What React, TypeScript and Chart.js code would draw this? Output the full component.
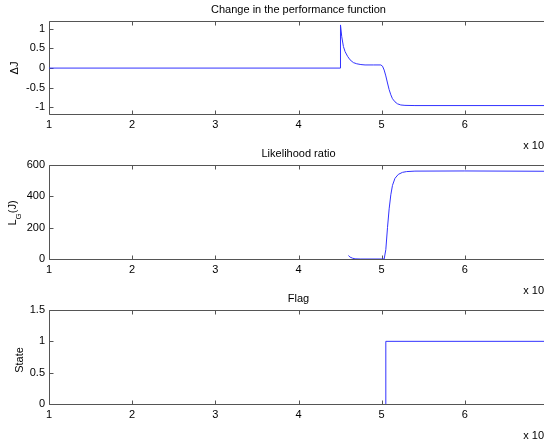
import React, { useEffect, useRef } from "react";
import { Chart, registerables } from "chart.js";

Chart.register(...registerables);

// ---------- data (x in units of 10^4) ----------
const X_TICKS = [1, 2, 3, 4, 5, 6];
const X_MIN = 1;
const X_MAX = 7;
const X_EXP_BASE = "x 10";
const X_EXP_POWER = "4";

const DJ_X = [1, 4.5, 4.505, 4.52, 4.54, 4.56, 4.59, 4.62, 4.66, 4.7, 4.75, 4.8, 4.9, 4.99, 5.01, 5.03, 5.05, 5.07, 5.09, 5.11, 5.13, 5.16, 5.19, 5.23, 5.28, 5.4, 7];
const DJ_Y = [0, 0, 1.1, 0.8, 0.55, 0.42, 0.3, 0.21, 0.14, 0.11, 0.09, 0.08, 0.08, 0.08, 0.05, -0.05, -0.2, -0.38, -0.55, -0.68, -0.78, -0.86, -0.91, -0.94, -0.95, -0.955, -0.955];
const DJ_TICKS = [-1, -0.5, 0, 0.5, 1];

const LR_X = [4.6, 4.62, 4.65, 4.68, 4.75, 5.03, 5.05, 5.07, 5.09, 5.11, 5.13, 5.16, 5.2, 5.25, 5.3, 5.4, 6, 7];
const LR_Y = [22, 12, 5, 1, 0, 0, 60, 200, 320, 410, 470, 515, 540, 553, 558, 561, 562, 560];
const LR_TICKS = [0, 200, 400, 600];

const FLAG_X = [5.05, 5.05, 7];
const FLAG_Y = [0, 1, 1];
const FLAG_TICKS = [0, 0.5, 1, 1.5];

// ---------- styling / layout ----------
const W = 600;
const H = 440;
const PLOT_LEFT = 49;
const PLOT_RIGHT = 548;
const X_AXIS_H = 20;
const FONT = "'Liberation Sans', Arial, Helvetica, sans-serif";
const AXIS_COLOR = "#555";
const TEXT_COLOR = "#000";
const LINE_COLOR = "rgb(50,50,255)";

type Panel = {
  title: string;
  xs: number[];
  ys: number[];
  yMin: number;
  yMax: number;
  yTicks: number[];
  top: number;
  bottom: number;
  ylabel: { main: string; sub?: string; rest?: string };
  ylabelX: number;
  ylabelY: number;
};

const PANELS: Panel[] = [
  {
    title: "Change in the performance function",
    xs: DJ_X, ys: DJ_Y, yMin: -1.17, yMax: 1.2, yTicks: DJ_TICKS,
    top: 21, bottom: 114,
    ylabel: { main: "\u0394J" }, ylabelX: 15, ylabelY: 68,
  },
  {
    title: "Likelihood ratio",
    xs: LR_X, ys: LR_Y, yMin: 0, yMax: 600, yTicks: LR_TICKS,
    top: 165, bottom: 259,
    ylabel: { main: "L", sub: "G", rest: "(J)" }, ylabelX: 12.5, ylabelY: 213,
  },
  {
    title: "Flag",
    xs: FLAG_X, ys: FLAG_Y, yMin: 0, yMax: 1.5, yTicks: FLAG_TICKS,
    top: 310, bottom: 404,
    ylabel: { main: "State" }, ylabelX: 19.5, ylabelY: 360,
  },
];

function makePlugin(p: Panel) {
  return {
    id: "matlabAxes",
    beforeDatasetsDraw(chart: any) {
      const { ctx, chartArea: a } = chart;
      const xs = chart.scales.x;
      const ys = chart.scales.y;
      const L = Math.floor(a.left) + 0.5;
      const R = Math.floor(a.right) + 0.5;
      const T = Math.floor(a.top) + 0.5;
      const B = Math.floor(a.bottom) + 0.5;
      ctx.save();
      ctx.strokeStyle = AXIS_COLOR;
      ctx.lineWidth = 1;
      ctx.beginPath();
      ctx.rect(L, T, R - L, B - T);
      for (const t of xs.ticks) {
        const px = Math.round(xs.getPixelForValue(t.value)) + 0.5;
        ctx.moveTo(px, B);
        ctx.lineTo(px, B - 4);
        ctx.moveTo(px, T);
        ctx.lineTo(px, T + 4);
      }
      for (const t of ys.ticks) {
        const py = Math.round(ys.getPixelForValue(t.value)) + 0.5;
        ctx.moveTo(L, py);
        ctx.lineTo(L + 4, py);
        ctx.moveTo(R, py);
        ctx.lineTo(R - 4, py);
      }
      ctx.stroke();
      ctx.restore();
    },
    afterDraw(chart: any) {
      const { ctx, chartArea: a } = chart;
      ctx.save();
      ctx.fillStyle = TEXT_COLOR;
      // title
      ctx.font = `11px ${FONT}`;
      ctx.textAlign = "center";
      ctx.textBaseline = "alphabetic";
      ctx.fillText(p.title, (a.left + a.right) / 2, a.top - 8);
      // exponent label
      ctx.textAlign = "right";
      ctx.font = `8px ${FONT}`;
      const pw = ctx.measureText(X_EXP_POWER).width;
      ctx.fillText(X_EXP_POWER, a.right + 0.5, a.bottom + 30);
      ctx.font = `11px ${FONT}`;
      ctx.fillText(X_EXP_BASE, a.right + 0.5 - pw, a.bottom + 35);
      // y label (rotated)
      ctx.translate(p.ylabelX, p.ylabelY);
      ctx.rotate(-Math.PI / 2);
      ctx.textBaseline = "middle";
      ctx.textAlign = "left";
      const lab = p.ylabel;
      ctx.font = `11px ${FONT}`;
      const w1 = ctx.measureText(lab.main).width;
      let w2 = 0;
      let w3 = 0;
      if (lab.sub) {
        ctx.font = `8px ${FONT}`;
        w2 = ctx.measureText(lab.sub).width;
      }
      if (lab.rest) {
        ctx.font = `11px ${FONT}`;
        w3 = ctx.measureText(lab.rest).width;
      }
      let x0 = -(w1 + w2 + w3) / 2;
      ctx.font = `11px ${FONT}`;
      ctx.fillText(lab.main, x0, 0);
      x0 += w1;
      if (lab.sub) {
        ctx.font = `8px ${FONT}`;
        ctx.fillText(lab.sub, x0, 6);
        x0 += w2;
      }
      if (lab.rest) {
        ctx.font = `11px ${FONT}`;
        ctx.fillText(lab.rest, x0, 0);
      }
      ctx.restore();
    },
  };
}

function PanelChart({ p }: { p: Panel }) {
  const ref = useRef<HTMLCanvasElement | null>(null);
  useEffect(() => {
    if (!ref.current) return;
    const font = { family: FONT, size: 11 };
    const chart = new Chart(ref.current, {
      type: "line",
      data: {
        datasets: [
          {
            data: p.xs.map((x, i) => ({ x, y: p.ys[i] })),
            borderColor: LINE_COLOR,
            borderWidth: 1,
            pointRadius: 0,
            tension: 0,
            fill: false,
          },
        ],
      },
      options: {
        animation: false,
        responsive: false,
        events: [],
        layout: {
          padding: {
            top: p.top,
            bottom: H - p.bottom - X_AXIS_H,
            left: 0,
            right: W - PLOT_RIGHT,
          },
        },
        plugins: {
          legend: { display: false },
          tooltip: { enabled: false },
          title: { display: false },
        },
        scales: {
          x: {
            type: "linear",
            min: X_MIN,
            max: X_MAX,
            afterBuildTicks: (s: any) => {
              s.ticks = X_TICKS.map((v) => ({ value: v }));
            },
            afterFit: (s: any) => {
              s.height = X_AXIS_H;
            },
            grid: { display: false, drawTicks: false },
            border: { display: false },
            ticks: {
              padding: 4,
              font,
              color: TEXT_COLOR,
              maxRotation: 0,
              autoSkip: false,
              callback: (v: any) => String(v),
            },
          },
          y: {
            type: "linear",
            min: p.yMin,
            max: p.yMax,
            afterBuildTicks: (s: any) => {
              s.ticks = p.yTicks.map((v) => ({ value: v }));
            },
            afterFit: (s: any) => {
              s.width = PLOT_LEFT;
            },
            grid: { display: false, drawTicks: false },
            border: { display: false },
            ticks: {
              padding: 4,
              font,
              color: TEXT_COLOR,
              autoSkip: false,
              callback: (v: any) => String(v),
            },
          },
        },
      } as any,
      plugins: [makePlugin(p)],
    });
    return () => chart.destroy();
  }, [p]);
  return (
    <canvas
      ref={ref}
      width={W}
      height={H}
      style={{ position: "absolute", left: 0, top: 0, width: W, height: H }}
    />
  );
}

export default function App() {
  return (
    <div
      style={{
        position: "fixed",
        left: 0,
        top: 0,
        width: 544,
        height: 440,
        overflow: "hidden",
        background: "#fff",
      }}
    >
      {PANELS.map((p, i) => (
        <PanelChart key={i} p={p} />
      ))}
    </div>
  );
}
